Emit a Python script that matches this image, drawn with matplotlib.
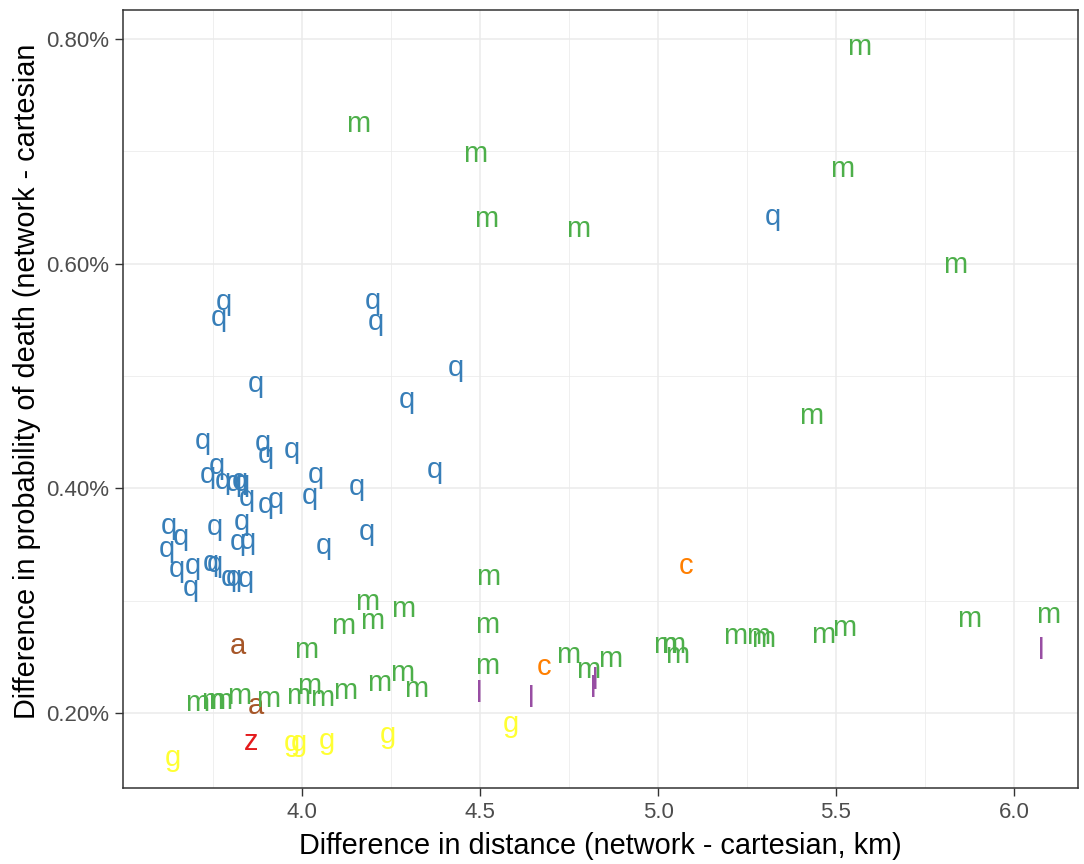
import matplotlib
matplotlib.use("Agg")
import matplotlib.pyplot as plt
from matplotlib import transforms
from matplotlib.ticker import FixedLocator, FuncFormatter

plt.rcParams["font.family"] = ["Liberation Sans", "DejaVu Sans"]

# difference in distance (km) and difference in probability of death (%)
q_x = [3.720, 3.890, 3.898, 3.972, 3.760, 3.734, 3.777, 3.809, 3.824, 3.831,
       3.845, 3.899, 3.927, 4.021, 4.038, 3.627, 3.659, 3.756, 3.831, 3.821,
       3.849, 3.620, 4.060, 3.648, 3.692, 3.744, 3.754, 3.687, 3.795, 3.807,
       3.843, 3.779, 3.767, 4.199, 4.208, 3.871, 4.295, 4.154, 4.183, 4.374,
       4.433, 5.323]
q_y = [0.4415, 0.4400, 0.4296, 0.4341, 0.4192, 0.4118, 0.4059, 0.4044, 0.4059, 0.4044,
       0.3911, 0.3851, 0.3896, 0.3931, 0.4118, 0.3664, 0.3558, 0.3653, 0.3694, 0.3516,
       0.3525, 0.3457, 0.3486, 0.3273, 0.3302, 0.3332, 0.3326, 0.3110, 0.3199, 0.3199,
       0.3190, 0.5652, 0.5516, 0.5667, 0.5480, 0.4928, 0.4786, 0.4003, 0.3611, 0.4163,
       0.5071, 0.6415]

m_x = [5.564, 4.157, 4.487, 5.518, 4.516, 4.775, 5.834, 5.430, 4.182, 4.285,
       4.196, 4.116, 4.519, 4.522, 4.011, 4.519, 4.748, 4.804, 4.865, 5.020,
       5.042, 5.054, 5.216, 5.282, 5.296, 5.464, 5.522, 5.874, 6.096, 3.704,
       3.751, 3.770, 3.824, 3.905, 3.990, 4.021, 4.055, 4.121, 4.217, 4.280,
       4.320]
m_y = [0.7922, 0.7243, 0.6975, 0.6842, 0.6397, 0.6308, 0.5979, 0.4635, 0.2982, 0.2917,
       0.2813, 0.2768, 0.2783, 0.3202, 0.2556, 0.2418, 0.2516, 0.2376, 0.2472, 0.2605,
       0.2605, 0.2512, 0.2679, 0.2679, 0.2656, 0.2694, 0.2754, 0.2834, 0.2872, 0.2086,
       0.2101, 0.2101, 0.2151, 0.2122, 0.2151, 0.2234, 0.2131, 0.2190, 0.2264, 0.2353,
       0.2205]

a_x = [3.821, 3.871]
a_y = [0.2590, 0.2062]

c_x = [4.681, 5.079]
c_y = [0.2409, 0.3308]

z_x = [3.856]
z_y = [0.1736]

g_x = [3.638, 3.971, 3.992, 4.069, 4.240, 4.588]
g_y = [0.1597, 0.1724, 0.1724, 0.1745, 0.1804, 0.1902]

l_x = [4.498, 4.645, 4.817, 4.824, 6.078]
l_y = [0.2167, 0.2123, 0.2212, 0.2278, 0.2545]

x_ticks = [4.0, 4.5, 5.0, 5.5, 6.0]
y_ticks = [0.2, 0.4, 0.6, 0.8]

groups = [
    ("a", a_x, a_y, "#A65628"),
    ("c", c_x, c_y, "#FF7F00"),
    ("g", g_x, g_y, "#FFFF33"),
    ("l", l_x, l_y, "#984EA3"),
    ("m", m_x, m_y, "#4DAF4A"),
    ("q", q_x, q_y, "#377EB8"),
    ("z", z_x, z_y, "#E41A1C"),
]

LABEL_SIZE = 21


def style_axes(ax):
    ax.set_xlim(3.497, 6.180)
    ax.set_ylim(0.1332, 0.8257)

    ax.xaxis.set_major_locator(FixedLocator(x_ticks))
    ax.xaxis.set_minor_locator(FixedLocator([3.75, 4.25, 4.75, 5.25, 5.75]))
    ax.yaxis.set_major_locator(FixedLocator(y_ticks))
    ax.yaxis.set_minor_locator(FixedLocator([0.3, 0.5, 0.7]))
    ax.xaxis.set_major_formatter(FuncFormatter(lambda v, p: f"{v:.1f}"))
    ax.yaxis.set_major_formatter(FuncFormatter(lambda v, p: f"{v:.2f}%"))

    ax.grid(which="major", color="#EBEBEB", linewidth=1.1)
    ax.grid(which="minor", color="#EBEBEB", linewidth=0.55)
    ax.set_axisbelow(True)

    for spine in ax.spines.values():
        spine.set_color("#333333")
        spine.set_linewidth(1.1)

    ax.tick_params(which="major", length=5.5, width=1.0, color="#333333",
                   labelsize=16, labelcolor="#4D4D4D", pad=4.5)
    ax.tick_params(which="minor", length=0)

    ax.set_xlabel("Difference in distance (network - cartesian, km)",
                  fontsize=20.8, labelpad=6.5)
    ax.set_ylabel("Difference in probability of death (network - cartesian",
                  fontsize=20.8)
    ax.yaxis.set_label_coords(-0.0859, 0.523)


def plot_groups(fig, ax):
    # put the x-height middle of each letter on its data point
    shift = transforms.offset_copy(ax.transData, fig=fig,
                                   y=-0.519 * LABEL_SIZE / 2, units="points")
    for label, xs, ys, colour in groups:
        for x, y in zip(xs, ys):
            ax.text(x, y, label, color=colour, fontsize=LABEL_SIZE,
                    ha="center", va="baseline", transform=shift)


if __name__ == "__main__":
    fig = plt.figure(figsize=(10.84, 8.64), dpi=100)
    ax = fig.add_axes([0.1135, 0.0880, 0.8810, 0.9004])
    style_axes(ax)
    plot_groups(fig, ax)
    fig.savefig("out.png", dpi=100, facecolor="white")
